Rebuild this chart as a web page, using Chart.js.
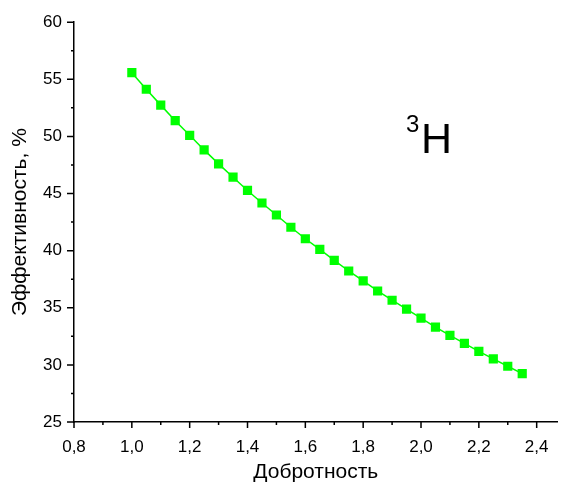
<!DOCTYPE html>
<html><head><meta charset="utf-8">
<script src="https://cdn.jsdelivr.net/npm/chart.js@4"></script>
<style>html,body{margin:0;padding:0;background:#fff}#wrap{width:564px;height:483px}</style>
</head><body><div id="wrap"><canvas id="c" width="564" height="483"></canvas></div>
<script>
const qualityFactor = [1.00,1.05,1.10,1.15,1.20,1.25,1.30,1.35,1.40,1.45,1.50,1.55,1.60,1.65,1.70,1.75,1.80,1.85,1.90,1.95,2.00,2.05,2.10,2.15,2.20,2.25,2.30,2.35];
const efficiency = [55.58,54.13,52.74,51.38,50.10,48.82,47.60,46.43,45.27,44.17,43.12,42.05,41.04,40.11,39.15,38.22,37.35,36.47,35.66,34.88,34.10,33.31,32.58,31.88,31.19,30.52,29.88,29.24];
const xMajorTicks = [0.8,1.0,1.2,1.4,1.6,1.8,2.0,2.2,2.4];
const yMajorTicks = [25,30,35,40,45,50,55,60];
const xTitle = 'Добротность';
const yTitle = 'Эффективность, %';
const isotopeMass = '3';
const isotopeSymbol = 'H';

const FONT = '"Liberation Sans", Arial, sans-serif';

const tickMarks = {
  id: 'tickMarks',
  afterDraw(chart) {
    const ctx = chart.ctx, xs = chart.scales.x, ys = chart.scales.y;
    ctx.save();
    ctx.strokeStyle = '#000';
    ctx.lineWidth = 1.5;
    ctx.beginPath();
    const xMinor = xMajorTicks.map(v => v + 0.1);
    xMajorTicks.forEach(v => { const p = xs.getPixelForValue(v); ctx.moveTo(p, xs.top); ctx.lineTo(p, xs.top + 6); });
    xMinor.forEach(v => { if (v <= xs.max) { const p = xs.getPixelForValue(v); ctx.moveTo(p, xs.top); ctx.lineTo(p, xs.top + 3); } });
    const yMinor = yMajorTicks.slice(0, -1).map(v => v + 2.5);
    yMajorTicks.forEach(v => { const p = ys.getPixelForValue(v); ctx.moveTo(ys.right, p); ctx.lineTo(ys.right - 7, p); });
    yMinor.forEach(v => { const p = ys.getPixelForValue(v); ctx.moveTo(ys.right, p); ctx.lineTo(ys.right - 3, p); });
    ctx.stroke();
    // isotope label
    ctx.fillStyle = '#000';
    ctx.textBaseline = 'alphabetic';
    ctx.textAlign = 'left';
    ctx.font = '24px ' + FONT;
    ctx.fillText(isotopeMass, 406, 132);
    ctx.font = '43px ' + FONT;
    ctx.fillText(isotopeSymbol, 421, 153);
    ctx.restore();
  }
};

const fmt = v => Number(v).toFixed(1).replace('.', ',');

new Chart(document.getElementById('c'), {
  type: 'scatter',
  data: {
    datasets: [{
      data: qualityFactor.map((x, i) => ({ x, y: efficiency[i] })),
      showLine: true,
      borderColor: '#00ff00',
      backgroundColor: '#00ff00',
      borderWidth: 1.5,
      pointStyle: 'rect',
      pointRadius: 6.5,
      pointBorderWidth: 0,
      pointHoverRadius: 6.5
    }]
  },
  options: {
    responsive: false,
    animation: false,
    devicePixelRatio: 1,
    layout: { padding: { top: 20, right: 0, left: 0, bottom: 0 } },
    plugins: { legend: { display: false }, tooltip: { enabled: false } },
    scales: {
      x: {
        type: 'linear', min: 0.8, max: 2.472,
        afterFit: s => { s.height = 61; },
        afterBuildTicks: s => { s.ticks = xMajorTicks.map(v => ({ value: v })); },
        ticks: { includeBounds: false, callback: fmt, color: '#000', padding: 15, maxRotation: 0, font: { family: FONT, size: 17 } },
        grid: { display: false, drawTicks: false },
        border: { display: true, color: '#000', width: 1.5 },
        title: { display: true, text: xTitle, color: '#000', padding: { top: 0, bottom: 0 }, font: { family: FONT, size: 21, lineHeight: 1 } }
      },
      y: {
        type: 'linear', min: 25, max: 60,
        afterFit: s => { s.width = 74; },
        afterBuildTicks: s => { s.ticks = yMajorTicks.map(v => ({ value: v })); },
        ticks: { includeBounds: false, color: '#000', padding: 12, font: { family: FONT, size: 17 } },
        grid: { display: false, drawTicks: false },
        border: { display: true, color: '#000', width: 1.5 },
        title: { display: true, text: yTitle, color: '#000', padding: { top: 10, bottom: 0 }, font: { family: FONT, size: 21, lineHeight: 1 } }
      }
    }
  },
  plugins: [tickMarks]
});
</script></body></html>
